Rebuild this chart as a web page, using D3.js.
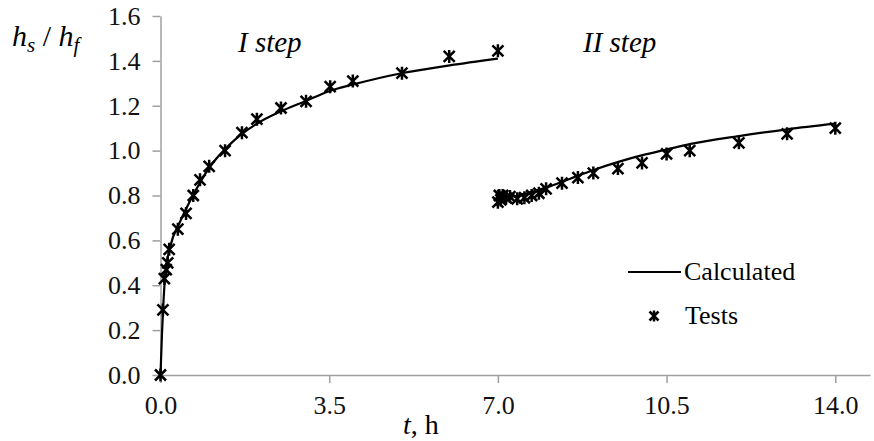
<!DOCTYPE html>
<html><head><meta charset="utf-8">
<script src="https://cdn.jsdelivr.net/npm/d3@7"></script>
<style>
html,body{margin:0;padding:0;background:#fff;}
svg text, svg tspan { font-family: "Liberation Serif" !important; }
</style>
</head>
<body><svg id="c" width="874" height="441" style="font-family:'Liberation Serif'"></svg>
<script>
// ---- data ----
const xTicks = [0, 3.5, 7.0, 10.5, 14.0];
const yTicks = [0, 0.2, 0.4, 0.6, 0.8, 1.0, 1.2, 1.4, 1.6];
const xAxisEnd = 14.72;

// Step I
const calc1T = [0, 0.03, 0.06, 0.1, 0.2, 0.4, 0.6, 0.8, 1.0, 1.5, 2.0, 2.5, 3.0, 3.5, 4.0, 5.0, 6.0, 7.0];
const calc1V = [0, 0.18, 0.32, 0.45, 0.57, 0.68, 0.77, 0.85, 0.92, 1.04, 1.12, 1.175, 1.22, 1.265, 1.295, 1.345, 1.38, 1.41];
const test1T = [0, 0.05, 0.08, 0.12, 0.15, 0.18, 0.36, 0.53, 0.68, 0.82, 1.01, 1.34, 1.69, 2.0, 2.5, 3.02, 3.52, 3.99, 5.01, 5.99, 7.0];
const test1V = [0, 0.29, 0.43, 0.47, 0.50, 0.56, 0.65, 0.72, 0.80, 0.87, 0.93, 1.00, 1.08, 1.14, 1.19, 1.22, 1.285, 1.31, 1.345, 1.42, 1.445];

// Step II
const calc2T = [7.0, 7.3, 7.6, 8.0, 8.5, 9.0, 9.5, 10.0, 10.5, 11.0, 12.0, 13.0, 14.0];
const calc2V = [0.785, 0.795, 0.81, 0.835, 0.875, 0.915, 0.95, 0.98, 1.005, 1.03, 1.065, 1.095, 1.12];
const test2T = [7.0, 7.03, 7.06, 7.1, 7.17, 7.25, 7.4, 7.55, 7.7, 7.85, 8.0, 8.33, 8.66, 8.98, 9.49, 9.99, 10.5, 10.98, 12.0, 13.0, 14.0];
const test2V = [0.77, 0.80, 0.78, 0.80, 0.79, 0.795, 0.785, 0.79, 0.80, 0.81, 0.83, 0.855, 0.88, 0.90, 0.92, 0.945, 0.985, 1.00, 1.035, 1.075, 1.10];

const legendLabels = ["Calculated", "Tests"];

// ---- drawing ----
const svg = d3.select("#c");
const x = d3.scaleLinear().domain([0, xAxisEnd]).range([160.5, 870]);
const y = d3.scaleLinear().domain([0, 1.6]).range([375, 16]);
const axisColor = "#a0a0a0";

const gx = svg.append("g").attr("transform", `translate(0,${y(0)})`)
  .call(d3.axisBottom(x).tickValues(xTicks).tickFormat(d3.format(".1f")).tickSize(8).tickSizeOuter(0).tickPadding(13));
const gy = svg.append("g").attr("transform", `translate(${x(0)},0)`)
  .call(d3.axisLeft(y).tickValues(yTicks).tickFormat(d3.format(".1f")).tickSize(8).tickSizeOuter(0).tickPadding(12));
[gx, gy].forEach(g => {
  g.attr("font-family", null).attr("font-size", null);
  g.selectAll("path.domain").attr("stroke", axisColor).attr("stroke-width", 1.5);
  g.selectAll(".tick line").attr("stroke", axisColor).attr("stroke-width", 1.5);
  g.selectAll(".tick text").attr("fill", "#111").style("font-size", "26px");
});

const line = d3.line().x(d => x(d[0])).y(d => y(d[1])).curve(d3.curveMonotoneX);
const zip = (a, b) => a.map((v, i) => [v, b[i]]);

svg.append("path").datum(zip(calc1T, calc1V)).attr("d", line)
  .attr("fill", "none").attr("stroke", "#000").attr("stroke-width", 2.2);
svg.append("path").datum(zip(calc2T, calc2V)).attr("d", line)
  .attr("fill", "none").attr("stroke", "#000").attr("stroke-width", 2.2);

function starPath(s) {
  return `M${-s},${-s}L${s},${s}M${s},${-s}L${-s},${s}M0,${-s-1}L0,${s+1}`;
}
const tests = zip(test1T, test1V).concat(zip(test2T, test2V));
svg.append("g").selectAll("path").data(tests).join("path")
  .attr("transform", d => `translate(${x(d[0])},${y(d[1])})`)
  .attr("d", starPath(5.5))
  .attr("fill", "none").attr("stroke", "#000").attr("stroke-width", 2.5);

function txt(xp, yp, size, italic) {
  return svg.append("text").attr("x", xp).attr("y", yp)
    .style("font-size", size + "px")
    .style("font-style", italic ? "italic" : "normal");
}

// Annotations
txt(238, 52, 29, true).text("I step");
txt(583, 52, 29, true).text("II step");

// Y label
const yl = txt(12, 46, 30, false);
yl.append("tspan").style("font-style", "italic").text("h");
yl.append("tspan").style("font-style", "italic").attr("dy", 6).style("font-size", "21px").text("s");
yl.append("tspan").attr("dy", -6).text(" / ");
yl.append("tspan").style("font-style", "italic").text("h");
yl.append("tspan").style("font-style", "italic").attr("dy", 6).style("font-size", "21px").text("f");

// X label
const xl = txt(403, 434, 28, false);
xl.append("tspan").style("font-style", "italic").text("t");
xl.append("tspan").text(", h");

// Legend
svg.append("line").attr("x1", 628).attr("x2", 681).attr("y1", 272).attr("y2", 272)
  .attr("stroke", "#000").attr("stroke-width", 2.2);
txt(684, 280, 26, false).text(legendLabels[0]);
svg.append("path").attr("transform", "translate(654,316)").attr("d", starPath(4.5))
  .attr("fill", "none").attr("stroke", "#000").attr("stroke-width", 2.5);
txt(685, 324, 26, false).text(legendLabels[1]);
</script></body></html>
